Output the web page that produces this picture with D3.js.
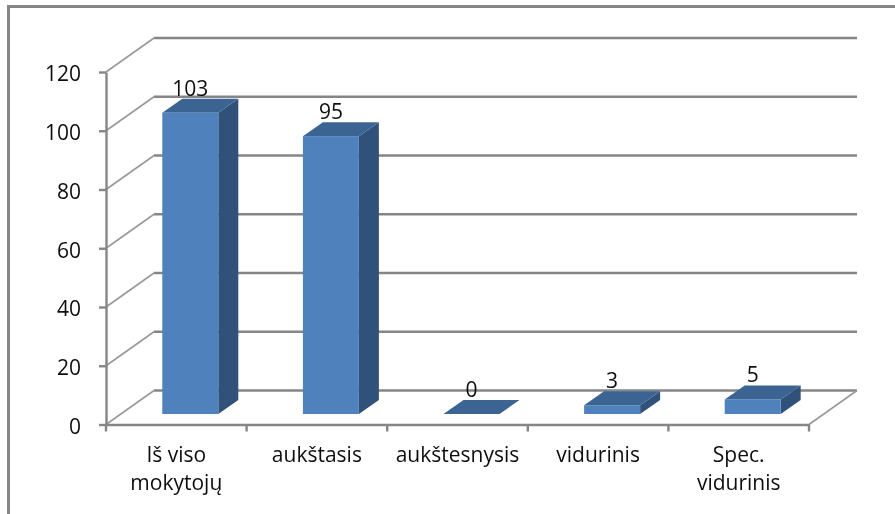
<!DOCTYPE html>
<html>
<head>
<meta charset="utf-8">
<script src="https://cdnjs.cloudflare.com/ajax/libs/d3/7.8.5/d3.min.js"></script>
<style>
  html, body { margin: 0; padding: 0; background: #fff; }
  svg { display: block; }
  text { font-family: "Open Sans", sans-serif; font-size: 21px; fill: #111; filter: url(#soft); }
</style>
</head>
<body>
<div id="chart"></div>
<script>
// values
var categories = ["Iš viso|mokytojų", "aukštasis", "aukštesnysis", "vidurinis", "Spec.|vidurinis"];
var values = [103, 95, 0, 3, 5];
var yTicks = [0, 20, 40, 60, 80, 100, 120];

var width_ = 895, height_ = 514;
var margin_ = {left: 106, right: 86, top: 72, bottom: 89.5};

// 3d offsets
var wallDx = 48, wallDy = -34;
var barDx = 20, barDy = -14;
var barW = 56;

var svg = d3.select("#chart").append("svg")
  .attr("width", width_)
  .attr("height", height_);

// the source is a low res scan, soften the text a little
svg.append("defs").append("filter")
  .attr("id", "soft")
  .append("feGaussianBlur")
  .attr("stdDeviation", 0.4);

// outer frame, only top and left show in the crop
svg.append("path")
  .attr("d", "M8.5,514 V6.5 H895")
  .attr("fill", "none")
  .attr("stroke", "#868686")
  .attr("stroke-width", 3);

var x = d3.scaleBand()
  .domain(categories)
  .range([margin_.left, width_ - margin_.right]);

var y = d3.scaleLinear()
  .domain([0, 120])
  .range([height_ - margin_.bottom, margin_.top]);

// bars stand a little further back so they get their own scale
var yBar = d3.scaleLinear()
  .domain([0, 120])
  .range([414, 63]);

var x0 = x.range()[0], x1 = x.range()[1];

// back wall gridlines
svg.append("g").selectAll("line")
  .data(yTicks)
  .enter().append("line")
  .attr("x1", x0 + wallDx)
  .attr("x2", x1 + wallDx)
  .attr("y1", function(d) { return y(d) + wallDy; })
  .attr("y2", function(d) { return y(d) + wallDy; })
  .attr("stroke", "#868686")
  .attr("stroke-width", 2.4);

// side wall diagonals
svg.append("g").selectAll("line")
  .data(yTicks)
  .enter().append("line")
  .attr("x1", x0)
  .attr("x2", x0 + wallDx)
  .attr("y1", function(d) { return y(d); })
  .attr("y2", function(d) { return y(d) + wallDy; })
  .attr("stroke", "#999")
  .attr("stroke-width", 1.6);

// floor right edge
svg.append("line")
  .attr("x1", x1)
  .attr("x2", x1 + wallDx)
  .attr("y1", y(0))
  .attr("y2", y(0) + wallDy)
  .attr("stroke", "#999")
  .attr("stroke-width", 1.6);

// y axis
var yAxis = svg.append("g")
  .attr("transform", "translate(" + x0 + ",0)")
  .call(d3.axisLeft(y).tickValues(yTicks).tickSize(7).tickSizeOuter(0).tickPadding(18));

// x axis
var xAxis = svg.append("g")
  .attr("transform", "translate(0," + y(0) + ")")
  .call(d3.axisBottom(x).tickSize(0).tickFormat(""));

xAxis.selectAll(".tick").remove();
xAxis.selectAll(".sep")
  .data(d3.range(categories.length + 1))
  .enter().append("line")
  .attr("class", "sep")
  .attr("x1", function(i) { return x0 + i * x.step(); })
  .attr("x2", function(i) { return x0 + i * x.step(); })
  .attr("y1", 0)
  .attr("y2", 7);

[yAxis, xAxis].forEach(function(a) {
  a.selectAll(".domain, line")
    .attr("stroke", "#868686")
    .attr("stroke-width", 2.4);
});
yAxis.selectAll("text")
  .attr("fill", null)
  .attr("font-size", null)
  .attr("font-family", null)
  .attr("dy", "0.42em");
yAxis.attr("font-size", null).attr("font-family", null);

// bars
var bars = svg.append("g").selectAll("g")
  .data(values)
  .enter().append("g");

function left(i) { return x(categories[i]) + x.bandwidth() / 2 - barW / 2 + barDx - 6; }

// right side
bars.append("path")
  .attr("fill", "#30527a")
  .attr("d", function(d, i) {
    var a = left(i) + barW, t = yBar(d), b = yBar(0);
    return "M" + a + "," + t + "l" + barDx + "," + barDy + "V" + (b + barDy) + "l" + (-barDx) + "," + (-barDy) + "Z";
  });

// top
bars.append("path")
  .attr("fill", "#3c6493")
  .attr("d", function(d, i) {
    var a = left(i), t = yBar(d);
    return "M" + a + "," + t + "l" + barDx + "," + barDy + "h" + barW + "l" + (-barDx) + "," + (-barDy) + "Z";
  });

// front
bars.append("rect")
  .attr("fill", "#4f81bd")
  .attr("x", function(d, i) { return left(i); })
  .attr("y", function(d) { return yBar(d); })
  .attr("width", barW)
  .attr("height", function(d) { return yBar(0) - yBar(d); });

// value labels
bars.append("text")
  .attr("text-anchor", "middle")
  .attr("x", function(d, i) { return left(i) + barW / 2; })
  .attr("y", function(d) { return yBar(d) + barDy - 3; })
  .text(function(d) { return d; });

// category labels, wrapped on |
var catLabels = svg.append("g").selectAll("text")
  .data(categories)
  .enter().append("text")
  .attr("text-anchor", "middle")
  .attr("y", 462);

catLabels.selectAll("tspan")
  .data(function(d) { return d.split("|"); })
  .enter().append("tspan")
  .attr("x", function() { var c = this.parentNode.__data__; return x(c) + x.bandwidth() / 2; })
  .attr("dy", function(d, i) { return i === 0 ? 0 : 28; })
  .text(function(d) { return d; });
</script>
</body>
</html>
